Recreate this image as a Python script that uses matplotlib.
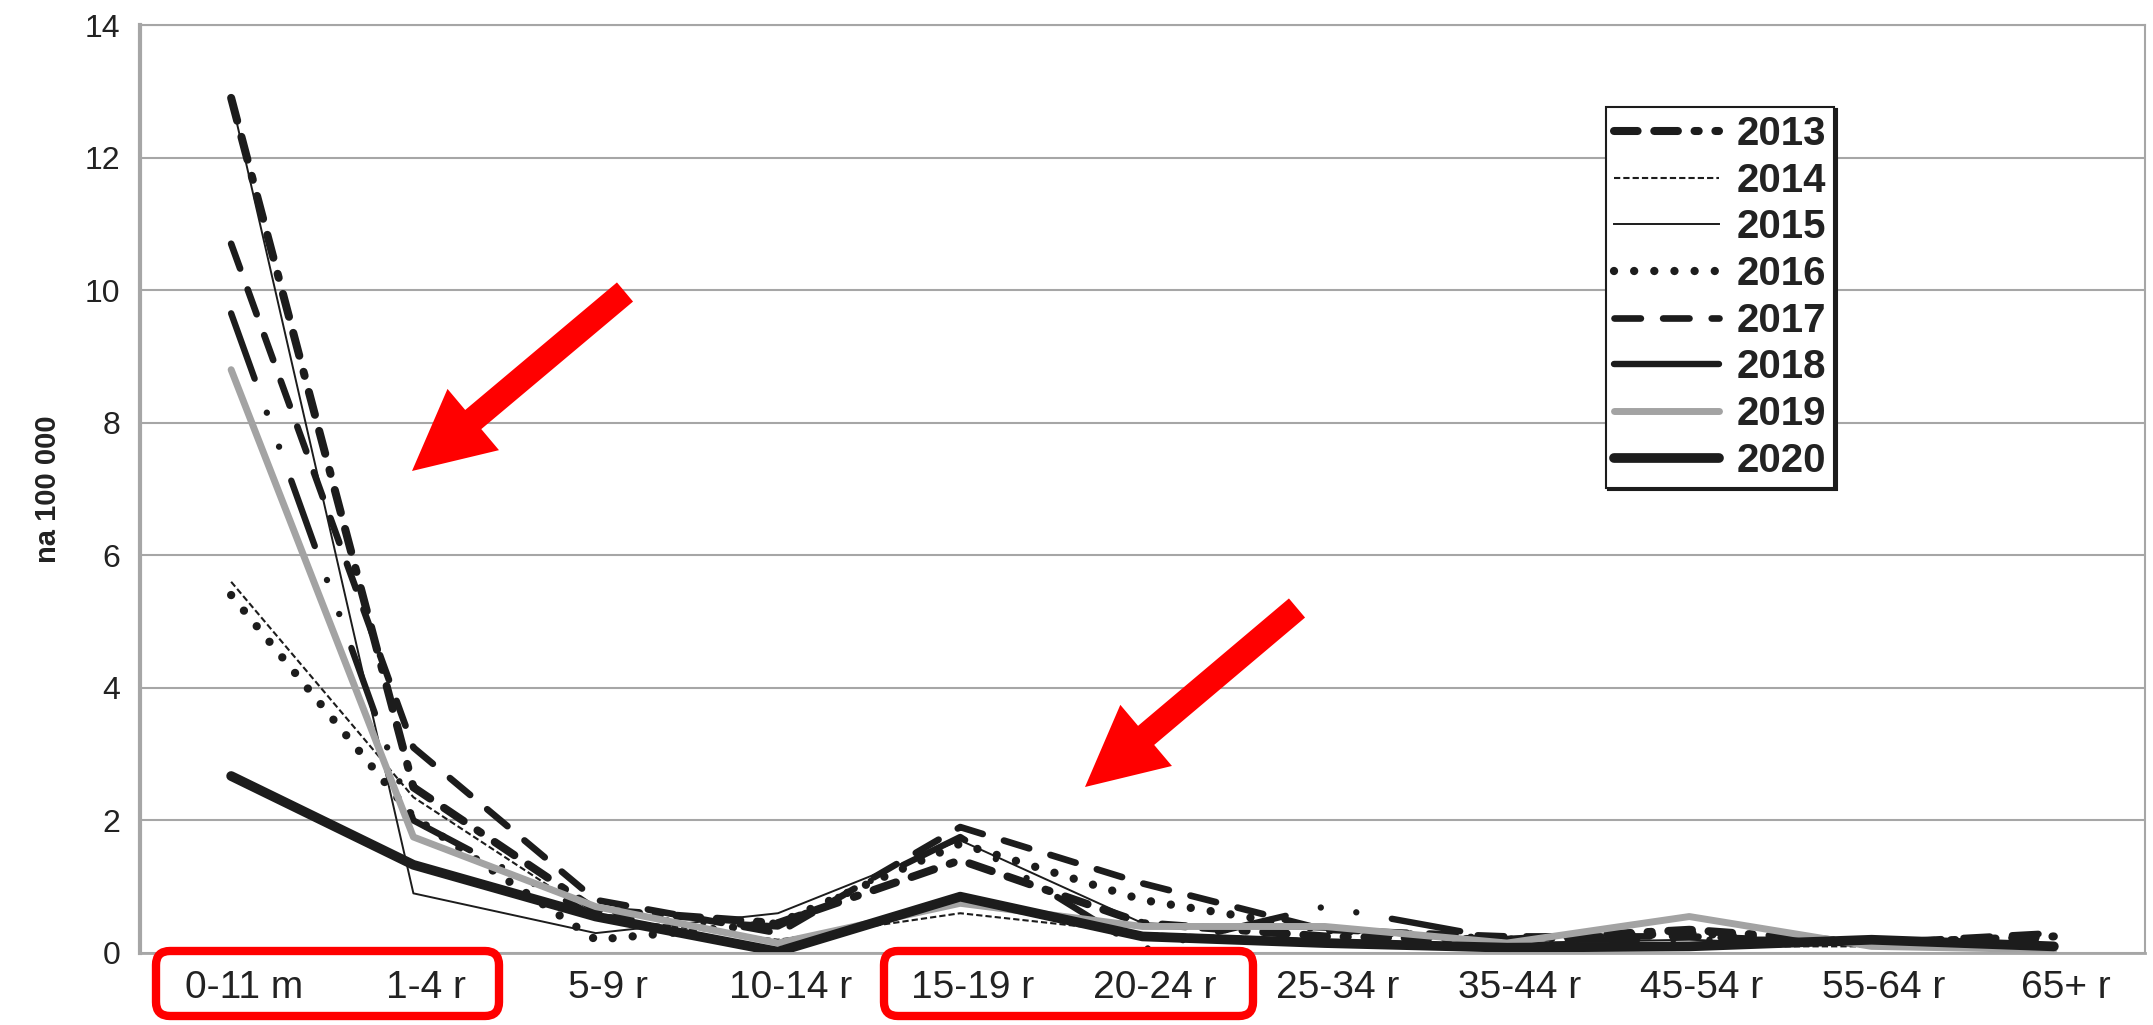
import numpy as np
import matplotlib.pyplot as plt
from matplotlib.lines import Line2D
from matplotlib.patches import FancyArrow, FancyBboxPatch
from matplotlib.transforms import IdentityTransform, ScaledTranslation

plt.rcParams['font.family'] = ['Liberation Sans', 'DejaVu Sans']
plt.rcParams['lines.scale_dashes'] = False

age_groups = ['0-11 m', '1-4 r', '5-9 r', '10-14 r', '15-19 r', '20-24 r',
              '25-34 r', '35-44 r', '45-54 r', '55-64 r', '65+ r']
years = ['2013', '2014', '2015', '2016', '2017', '2018', '2019', '2020']

rate_2013 = [12.9, 2.5, 0.65, 0.45, 1.4, 0.45, 0.25, 0.2, 0.35, 0.15, 0.25]
rate_2014 = [5.6, 2.35, 0.55, 0.2, 0.6, 0.3, 0.2, 0.1, 0.1, 0.1, 0.1]
rate_2015 = [12.9, 0.9, 0.3, 0.6, 1.7, 0.45, 0.35, 0.15, 0.2, 0.1, 0.15]
rate_2016 = [5.4, 2.05, 0.2, 0.45, 1.65, 0.8, 0.35, 0.2, 0.3, 0.15, 0.2]
rate_2017 = [10.7, 3.1, 0.8, 0.3, 1.9, 1.05, 0.35, 0.25, 0.25, 0.15, 0.3]
rate_2018 = [9.65, 2.0, 0.55, 0.4, 1.75, 0.05, 0.7, 0.2, 0.2, 0.2, 0.1]
rate_2019 = [8.8, 1.75, 0.7, 0.15, 0.75, 0.4, 0.4, 0.15, 0.55, 0.1, 0.05]
rate_2020 = [2.67, 1.33, 0.55, 0.02, 0.85, 0.25, 0.15, 0.08, 0.1, 0.2, 0.1]

rates = [rate_2013, rate_2014, rate_2015, rate_2016,
         rate_2017, rate_2018, rate_2019, rate_2020]

ink = '#1c1c1c'
grid_grey = '#a6a6a6'

# line look on the plot (2018 is drawn dash-dot-dot, legend shows it solid)
line_styles = [
    dict(color=ink, lw=5.8, dashes=(17, 12, 17, 12, 3, 12), dash_capstyle='round'),
    dict(color=ink, lw=1.5, dashes=(4.5, 2.2)),
    dict(color=ink, lw=1.4),
    dict(color=ink, lw=6, dashes=(0.01, 14.5), dash_capstyle='round'),
    dict(color=ink, lw=4.8, dashes=(19, 16), dash_capstyle='round'),
    dict(color=ink, lw=4.6, dashes=(50, 26, 0.01, 26, 0.01, 26), dash_capstyle='round'),
    dict(color='#a3a3a3', lw=5, solid_capstyle='round'),
    dict(color=ink, lw=7, solid_capstyle='round', solid_joinstyle='round'),
]
legend_styles = [dict(s) for s in line_styles]
legend_styles[5] = dict(color=ink, lw=4.6, solid_capstyle='round')

W, H = 2153, 1025
fig = plt.figure(figsize=(W / 100, H / 100), dpi=100)
ax = fig.add_axes([140 / W, 1 - 953 / H, (2145 - 140) / W, (953 - 25) / H])

x = np.arange(len(age_groups))
for vals, st in zip(rates, line_styles):
    ax.plot(x, vals, **st)

ax.set_xlim(-0.5, len(age_groups) - 0.5)
ax.set_ylim(0, 14)
ax.set_yticks(np.arange(0, 15, 2))
ax.set_xticks(x)
ax.set_xticklabels(age_groups)
ax.yaxis.grid(True, color=grid_grey, lw=1.5)
ax.set_axisbelow(True)

for side in ['left', 'right', 'top', 'bottom']:
    ax.spines[side].set_color(grid_grey)
ax.spines['left'].set_linewidth(3)
ax.spines['bottom'].set_linewidth(2)
ax.spines['top'].set_linewidth(1.5)
ax.spines['right'].set_linewidth(1.5)

ax.tick_params(axis='y', labelsize=23, length=0, pad=14, labelcolor='#222222')
ax.tick_params(axis='x', labelsize=28, length=0, pad=12, labelcolor='#222222')
shift = ScaledTranslation(9 / 72, 0, fig.dpi_scale_trans)
for lbl in ax.get_xticklabels():
    lbl.set_transform(lbl.get_transform() + shift)

ax.set_ylabel('na 100 000', fontsize=21, fontweight='bold', color='#222222')
ax.yaxis.set_label_coords(-0.039, 0.5)

handles = [Line2D([0], [0], **st) for st in legend_styles]
leg = ax.legend(handles, years, loc='upper left',
                bbox_to_anchor=(1606 / W, 1 - 107 / H), bbox_transform=fig.transFigure,
                borderaxespad=0,
                prop=dict(weight='bold', size=29), handlelength=2.6, handletextpad=0.45,
                labelspacing=0.215, borderpad=0.2, frameon=True, fancybox=False,
                edgecolor=ink, framealpha=1,
                shadow={'ox': 1.5, 'oy': -1.5, 'color': ink, 'alpha': 1})
leg.get_frame().set_linewidth(1.5)
for t in leg.get_texts():
    t.set_color('#222222')

# red highlight marks laid over the chart (image pixel positions)
px = IdentityTransform()
red_arrows = [((625, 292), (412, 471)), ((1297, 608), (1085, 787))]
for (x0, y0), (x1, y1) in red_arrows:
    fig.add_artist(FancyArrow(x0, H - y0, x1 - x0, -(y1 - y0), width=25,
                              head_width=80, head_length=80, length_includes_head=True,
                              color='#ff0000', lw=0, transform=px))

red_boxes = [(156, 499), (884, 1253)]
for bx0, bx1 in red_boxes:
    fig.add_artist(FancyBboxPatch((bx0, H - 1016), bx1 - bx0, 1016 - 951,
                                  boxstyle='round,pad=0,rounding_size=14', fill=False,
                                  ec='#ff0000', lw=6, transform=px))

fig.savefig('out.png', dpi=100)
